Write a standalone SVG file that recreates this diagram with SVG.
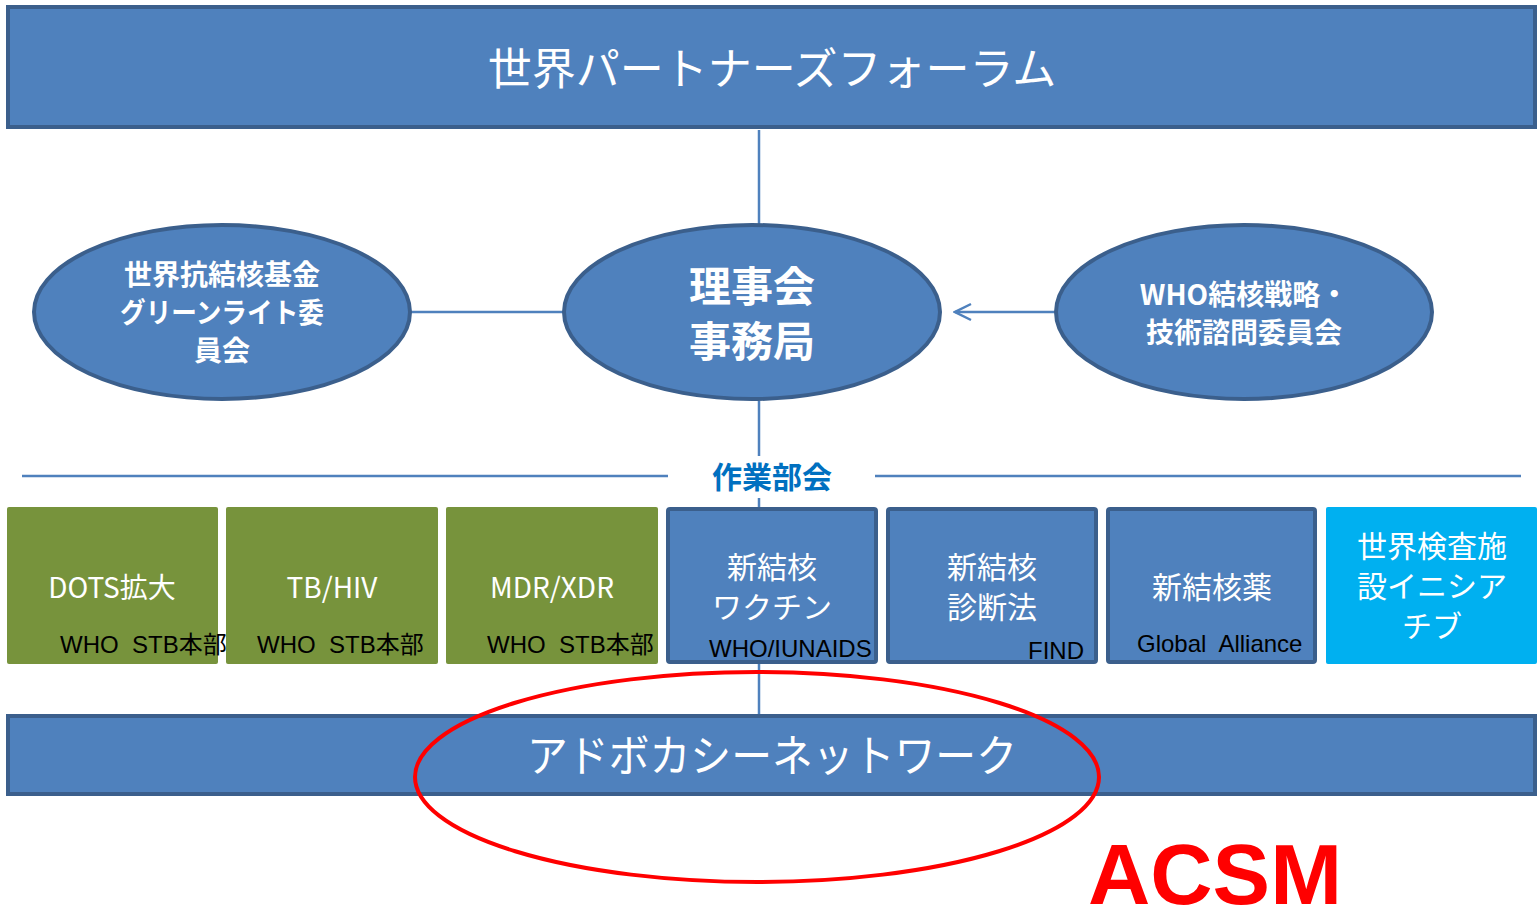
<svg xmlns="http://www.w3.org/2000/svg" width="1538" height="922" viewBox="0 0 1538 922">
<defs>
<style>
.bar{fill:#4F81BD;stroke:#3B5F8C;stroke-width:4}
.ell{fill:#4F81BD;stroke:#3B5F8C;stroke-width:4}
.green{fill:#77933C}
.blue{fill:#4F81BD;stroke:#3B5F8C;stroke-width:4}
.cyan{fill:#00B0F0}
.conn{stroke:#4F81BD;stroke-width:2.5;fill:none}
.jp{font-family:"Noto Sans CJK JP","Noto Sans",sans-serif;fill:#fff;text-anchor:middle}
.b{font-weight:bold}
.sub{font-family:"Liberation Sans","Noto Sans CJK JP",sans-serif;fill:#000;font-size:24px;white-space:pre}
</style>
<marker id="arr" markerWidth="20" markerHeight="20" refX="18" refY="10" orient="auto" markerUnits="userSpaceOnUse">
<path d="M2,2 L18,10 L2,18" fill="none" stroke="#4F81BD" stroke-width="2.5"/>
</marker>
</defs>
<rect width="1538" height="922" fill="#fff"/>
<g id="connectors">
<line class="conn" x1="759" y1="130" x2="759" y2="224"/>
<line class="conn" x1="411" y1="312" x2="564" y2="312"/>
<line class="conn" x1="1055" y1="312" x2="955" y2="312" marker-end="url(#arr)"/>
<line class="conn" x1="759" y1="401" x2="759" y2="508"/>
<line class="conn" x1="759" y1="663" x2="759" y2="715"/>
<line class="conn" x1="22" y1="476" x2="668" y2="476"/>
<line class="conn" x1="875" y1="476" x2="1521" y2="476"/>
</g>
<g id="forum">
<rect class="bar" x="8" y="7" width="1527" height="120"/>
<text class="jp" x="772" y="85" font-size="44">世界パートナーズフォーラム</text>
</g>
<g id="greenlight">
<ellipse class="ell" cx="222" cy="312" rx="188" ry="87"/>
<text class="jp b" x="222" y="285" font-size="28">世界抗結核基金</text>
<text class="jp b" x="222" y="323" font-size="28" textLength="204" lengthAdjust="spacingAndGlyphs">グリーンライト委</text>
<text class="jp b" x="222" y="361" font-size="28">員会</text>
</g>
<g id="board">
<ellipse class="ell" cx="752" cy="312" rx="188" ry="87"/>
<text class="jp b" x="752" y="302" font-size="42">理事会</text>
<text class="jp b" x="752" y="357" font-size="42">事務局</text>
</g>
<g id="who-stag">
<ellipse class="ell" cx="1244" cy="312" rx="188" ry="87"/>
<text class="jp b" x="1244" y="305" font-size="28">WHO結核戦略・</text>
<text class="jp b" x="1244" y="343" font-size="28">技術諮問委員会</text>
</g>
<g id="wg-label">
<rect x="700" y="456" width="145" height="42" fill="#fff"/>
<text x="772" y="488" font-family="Noto Sans CJK JP,sans-serif" font-weight="bold" font-size="30" fill="#0070C0" text-anchor="middle">作業部会</text>
</g>
<g id="dots">
<rect class="green" x="7" y="507" width="211" height="157" rx="2"/>
<text class="jp" x="112" y="598" font-size="28">DOTS拡大</text>
<text class="sub" x="60" y="653">WHO  STB本部</text>
</g>
<g id="tbhiv">
<rect class="green" x="226" y="507" width="212" height="157" rx="2"/>
<text class="jp" x="332" y="598" font-size="28">TB/HIV</text>
<text class="sub" x="257" y="653">WHO  STB本部</text>
</g>
<g id="mdr">
<rect class="green" x="446" y="507" width="212" height="157" rx="2"/>
<text class="jp" x="552" y="598" font-size="28">MDR/XDR</text>
<text class="sub" x="487" y="653">WHO  STB本部</text>
</g>
<g id="vaccine">
<rect class="blue" x="668" y="509" width="208" height="153" rx="2"/>
<text class="jp" x="772" y="578" font-size="30">新結核</text>
<text class="jp" x="772" y="618" font-size="30">ワクチン</text>
<text class="sub" x="709" y="657">WHO/IUNAIDS</text>
</g>
<g id="diagnostics">
<rect class="blue" x="888" y="509" width="208" height="153" rx="2"/>
<text class="jp" x="992" y="578" font-size="30">新結核</text>
<text class="jp" x="992" y="618" font-size="30">診断法</text>
<text class="sub" x="1028" y="659">FIND</text>
</g>
<g id="drugs">
<rect class="blue" x="1108" y="509" width="207" height="153" rx="2"/>
<text class="jp" x="1212" y="598" font-size="30">新結核薬</text>
<text class="sub" x="1137" y="652">Global  Alliance</text>
</g>
<g id="gli">
<rect class="cyan" x="1326" y="507" width="211" height="157" rx="2"/>
<text class="jp" x="1432" y="557" font-size="30">世界検査施</text>
<text class="jp" x="1432" y="597" font-size="30">設イニシア</text>
<text class="jp" x="1432" y="637" font-size="30">チブ</text>
</g>
<g id="advocacy">
<rect class="bar" x="8" y="716" width="1527" height="78"/>
<text class="jp" x="772" y="772" font-size="44" textLength="490" lengthAdjust="spacingAndGlyphs">アドボカシーネットワーク</text>
</g>
<g id="highlight">
<ellipse cx="757" cy="777" rx="342" ry="105" fill="none" stroke="#FF0000" stroke-width="4"/>
<text x="1088" y="904" font-family="Liberation Sans,sans-serif" font-weight="bold" font-size="86" fill="#FF0000" textLength="254" lengthAdjust="spacingAndGlyphs">ACSM</text>
</g>
</svg>
